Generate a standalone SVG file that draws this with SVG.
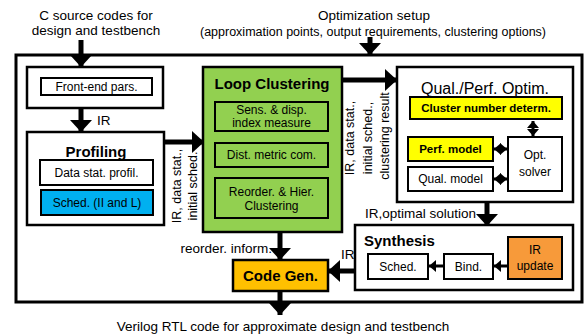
<svg xmlns="http://www.w3.org/2000/svg" width="584" height="334" viewBox="0 0 584 334">
<style>
text{font-family:"Liberation Sans",Arial,sans-serif;fill:#000}
.lbl{font-size:13.5px}
.rot{font-size:12.5px;text-anchor:middle}
.in{font-size:12px;text-anchor:middle}
.inb{font-size:11.5px;font-weight:bold;text-anchor:middle}
.ttl{font-size:15px;font-weight:bold}
.box{fill:#fff;stroke:#000;stroke-width:2.5}
.sub{stroke:#000;stroke-width:2}
.sh{stroke:#000;stroke-width:5;fill:none}
.ss{stroke:#000;stroke-width:3;fill:none}
</style>
<defs>
<marker id="big" markerUnits="userSpaceOnUse" markerWidth="13" markerHeight="22" refX="12" refY="11" orient="auto"><path d="M0,0 L12,11 L0,22 Z" fill="#000"/></marker>
<marker id="sm" markerUnits="userSpaceOnUse" markerWidth="8" markerHeight="12" refX="7" refY="6" orient="auto-start-reverse"><path d="M0,0 L7,6 L0,12 Z" fill="#000"/></marker>
</defs>
<rect x="16" y="55" width="566" height="247" fill="#fff" stroke="#000" stroke-width="3"/>
<g id="labels">
<text class="lbl" x="96" y="20" text-anchor="middle">C source codes for</text>
<text class="lbl" x="96" y="35" text-anchor="middle">design and testbench</text>
<text class="lbl" x="374" y="20" text-anchor="middle">Optimization setup</text>
<text x="373" y="36" text-anchor="middle" font-size="12.5px">(approximation points, output requirements, clustering options)</text>
<text class="lbl" x="97" y="125">IR</text>
<text class="rot" transform="translate(181,186) rotate(-90)">IR, data stat.,</text>
<text class="rot" transform="translate(197,186) rotate(-90)">initial sched.</text>
<text class="rot" transform="translate(354,138) rotate(-90)">IR, data stat.,</text>
<text class="rot" transform="translate(372,138) rotate(-90)">initial sched.,</text>
<text class="rot" transform="translate(389,136) rotate(-90)">clustering result</text>
<text class="lbl" x="476" y="218" text-anchor="end">IR,optimal solution</text>
<text class="lbl" x="272" y="253" text-anchor="end">reorder. inform.</text>
<text class="lbl" x="341" y="259">IR</text>
<text class="lbl" x="283" y="331" text-anchor="middle">Verilog RTL code for approximate design and testbench</text>
</g>
<g id="frontend">
<rect class="box" x="27" y="67" width="136" height="41"/>
<rect class="sub" fill="#fff" x="41" y="78" width="111" height="17"/>
<text class="in" x="96.5" y="91" font-size="11.5px">Front-end pars.</text>
</g>
<g id="profiling">
<rect class="box" x="27" y="132" width="137" height="93"/>
<text class="ttl" x="96" y="157" text-anchor="middle">Profiling</text>
<rect class="sub" fill="#fff" x="40" y="160" width="113" height="25"/>
<text class="in" x="96.5" y="177">Data stat. profil.</text>
<rect class="sub" fill="#00B0F0" x="41" y="190" width="112" height="25"/>
<text class="in" x="97" y="207">Sched. (II and L)</text>
</g>
<g id="loopclustering">
<rect x="203" y="67" width="139" height="165" fill="#92D050" stroke="#000" stroke-width="2.5"/>
<text class="ttl" x="272" y="89" text-anchor="middle">Loop Clustering</text>
<rect class="sub" fill="#92D050" x="215" y="102" width="113" height="29"/>
<text class="in" x="271.5" y="114">Sens. &amp; disp.</text>
<text class="in" x="271.5" y="127">index measure</text>
<rect class="sub" fill="#92D050" x="215" y="143" width="113" height="24"/>
<text class="in" x="271.5" y="159">Dist. metric com.</text>
<rect class="sub" fill="#92D050" x="215" y="178" width="113" height="40"/>
<text class="in" x="271.5" y="196">Reorder. &amp; Hier.</text>
<text class="in" x="271.5" y="210">Clustering</text>
</g>
<g id="qualperf">
<rect class="box" x="397" y="67" width="176" height="135"/>
<text x="485" y="94" text-anchor="middle" font-size="16px">Qual./Perf. Optim.</text>
<rect class="sub" fill="#FFFF00" x="410" y="97" width="152" height="22"/>
<text class="inb" x="486" y="112">Cluster number determ.</text>
<rect class="sub" fill="#FFFF00" x="408" y="137" width="85" height="24"/>
<text class="inb" x="450.5" y="153" font-size="12px">Perf. model</text>
<rect class="sub" fill="#fff" x="408" y="167" width="85" height="24"/>
<text class="in" x="450.5" y="183">Qual. model</text>
<rect class="sub" fill="#fff" x="508" y="137" width="54" height="54"/>
<text class="in" x="535" y="159">Opt.</text>
<text class="in" x="535" y="176">solver</text>
</g>
<g id="synthesis">
<rect class="box" x="355" y="225" width="218" height="65"/>
<text class="ttl" x="364" y="246" font-size="14.5px">Synthesis</text>
<rect class="sub" fill="#fff" x="368" y="254" width="60" height="25"/>
<text class="in" x="398" y="271">Sched.</text>
<rect class="sub" fill="#fff" x="444" y="254" width="49" height="25"/>
<text class="in" x="468.5" y="271">Bind.</text>
<rect class="sub" fill="#F79A3A" x="508" y="237" width="54" height="42"/>
<text class="in" x="535" y="254">IR</text>
<text class="in" x="535" y="270">update</text>
</g>
<g id="codegen">
<rect x="233" y="260" width="95" height="31" fill="#FFC000" stroke="#000" stroke-width="2.5"/>
<text class="ttl" x="280.5" y="281" text-anchor="middle">Code Gen.</text>
</g>
<g id="connectors">
<line class="sh" x1="81" y1="40" x2="81" y2="67" marker-end="url(#big)"/>
<line class="sh" x1="370" y1="37" x2="370" y2="55" marker-end="url(#big)"/>
<line class="sh" x1="81" y1="108" x2="81" y2="132" marker-end="url(#big)"/>
<line class="sh" x1="164" y1="142" x2="204" y2="142" marker-end="url(#big)"/>
<line class="sh" x1="342" y1="80" x2="397" y2="80" marker-end="url(#big)"/>
<line class="sh" x1="487" y1="202" x2="487" y2="226" marker-end="url(#big)"/>
<line class="sh" x1="280" y1="232" x2="280" y2="260" marker-end="url(#big)"/>
<line class="sh" x1="280" y1="291" x2="280" y2="315" marker-end="url(#big)"/>
<line class="sh" x1="355" y1="271" x2="328" y2="271" marker-end="url(#big)"/>
<line class="ss" x1="533" y1="121" x2="533" y2="136" marker-start="url(#sm)" marker-end="url(#sm)"/>
<line class="ss" x1="494" y1="149" x2="507" y2="149" marker-start="url(#sm)" marker-end="url(#sm)"/>
<line class="ss" x1="494" y1="179" x2="507" y2="179" marker-start="url(#sm)" marker-end="url(#sm)"/>
<line class="ss" x1="508" y1="266" x2="494" y2="266" marker-end="url(#sm)"/>
<line class="ss" x1="444" y1="266" x2="429" y2="266" marker-end="url(#sm)"/>
</g>
</svg>
